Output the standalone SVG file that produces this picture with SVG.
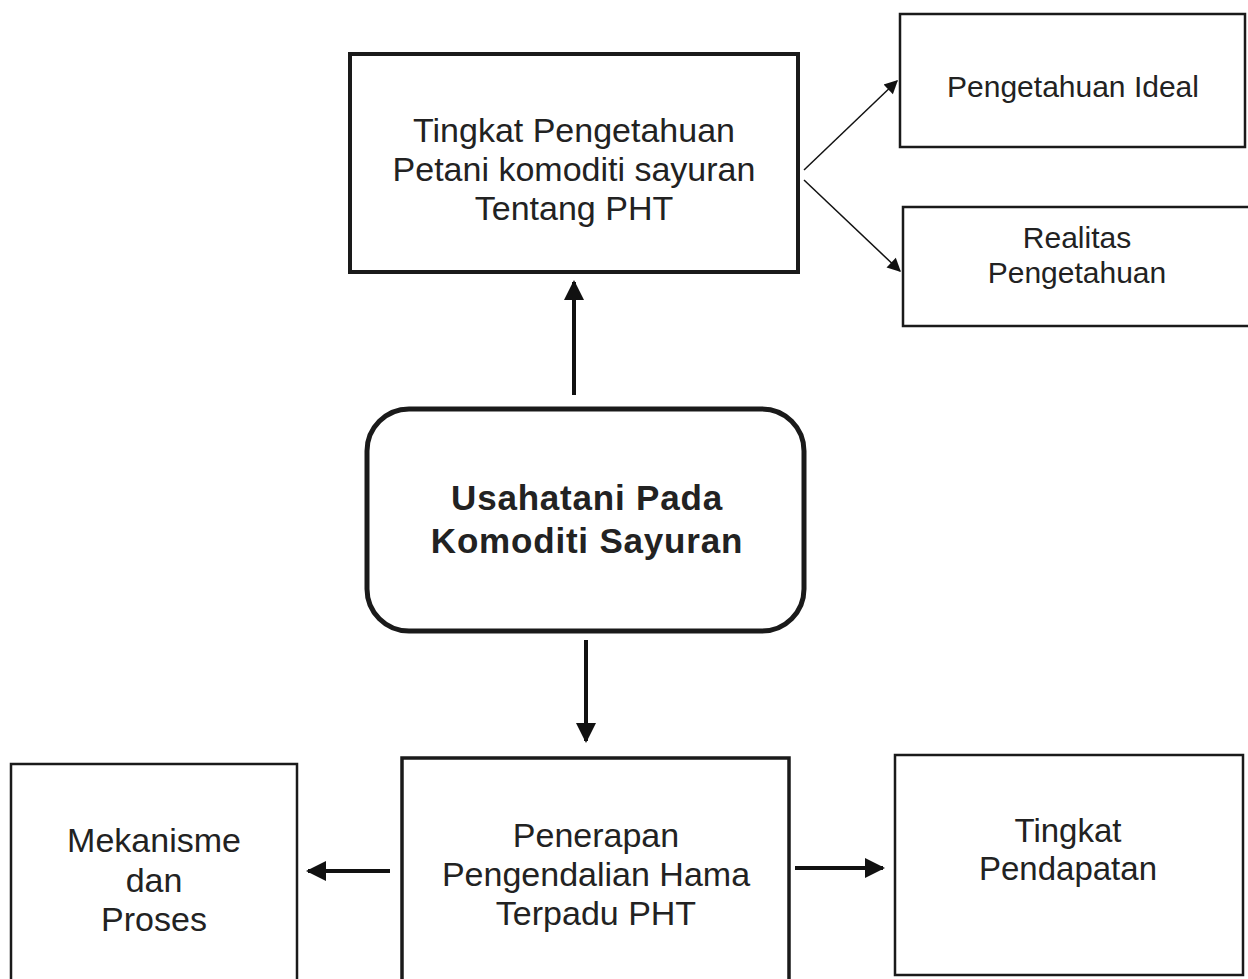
<svg xmlns="http://www.w3.org/2000/svg" width="1248" height="979" viewBox="0 0 1248 979">
<defs>
<style>
.box{fill:#fff;stroke:#1a1a1a}
.t{font-family:"Liberation Sans",Arial,sans-serif;fill:#222;text-anchor:middle}
.c{stroke:#111;fill:none}
</style>
<marker id="ah" viewBox="0 0 10 10" refX="9" refY="5" markerWidth="5" markerHeight="5" markerUnits="strokeWidth" orient="auto">
<path d="M0,0 L10,5 L0,10 z" fill="#111"/>
</marker>
<marker id="ahs" viewBox="0 0 10 10" refX="9" refY="5" markerWidth="10" markerHeight="9" markerUnits="strokeWidth" orient="auto">
<path d="M0,0 L10,5 L0,10 z" fill="#111"/>
</marker>
</defs>
<rect width="1248" height="979" fill="#fff"/>
<g id="connectors">
<line class="c" x1="574" y1="395" x2="574" y2="282" stroke-width="4" marker-end="url(#ah)"/>
<line class="c" x1="586" y1="640" x2="586" y2="741" stroke-width="4" marker-end="url(#ah)"/>
<line class="c" x1="390" y1="871" x2="308" y2="871" stroke-width="4" marker-end="url(#ah)"/>
<line class="c" x1="795" y1="868" x2="883" y2="868" stroke-width="4" marker-end="url(#ah)"/>
<line class="c" x1="804" y1="170" x2="897" y2="81" stroke-width="1.5" marker-end="url(#ahs)"/>
<line class="c" x1="804" y1="180" x2="900" y2="271" stroke-width="1.5" marker-end="url(#ahs)"/>
</g>
<g id="node-tingkat-pengetahuan">
<rect class="box" x="350" y="54" width="448" height="218" stroke-width="4"/>
<text class="t" font-size="34"><tspan x="574" y="142">Tingkat Pengetahuan</tspan><tspan x="574" y="181">Petani komoditi sayuran</tspan><tspan x="574" y="220">Tentang PHT</tspan></text>
</g>
<g id="node-pengetahuan-ideal">
<rect class="box" x="900" y="14" width="345" height="133" stroke-width="2.5"/>
<text class="t" font-size="30" x="1073" y="97">Pengetahuan Ideal</text>
</g>
<g id="node-realitas">
<rect class="box" x="903" y="207" width="348" height="119" stroke-width="2.5"/>
<text class="t" font-size="30"><tspan x="1077" y="248">Realitas</tspan><tspan x="1077" y="283">Pengetahuan</tspan></text>
</g>
<g id="node-usahatani">
<rect class="box" x="367" y="409" width="437" height="222" rx="42" ry="42" stroke-width="5"/>
<text class="t" font-size="35" font-weight="bold" letter-spacing="0.8"><tspan x="587" y="510">Usahatani Pada</tspan><tspan x="587" y="553">Komoditi Sayuran</tspan></text>
</g>
<g id="node-penerapan">
<rect class="box" x="402" y="758" width="387" height="230" stroke-width="3.5"/>
<text class="t" font-size="34"><tspan x="596" y="847">Penerapan</tspan><tspan x="596" y="886">Pengendalian Hama</tspan><tspan x="596" y="925">Terpadu PHT</tspan></text>
</g>
<g id="node-mekanisme">
<rect class="box" x="11" y="764" width="286" height="224" stroke-width="2.5"/>
<text class="t" font-size="34"><tspan x="154" y="852">Mekanisme</tspan><tspan x="154" y="892">dan</tspan><tspan x="154" y="931">Proses</tspan></text>
</g>
<g id="node-pendapatan">
<rect class="box" x="895" y="755" width="348" height="220" stroke-width="2.5"/>
<text class="t" font-size="33"><tspan x="1068" y="842">Tingkat</tspan><tspan x="1068" y="880">Pendapatan</tspan></text>
</g>
</svg>
